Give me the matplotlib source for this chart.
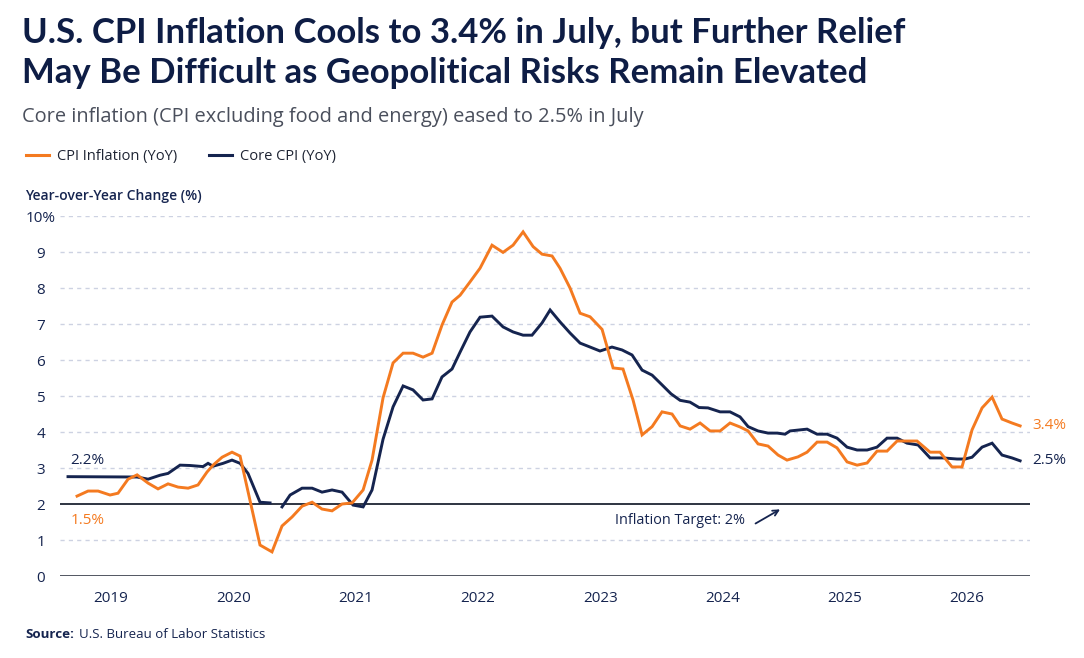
import numpy as np
import matplotlib
matplotlib.use("Agg")
import matplotlib.pyplot as plt

plt.rcParams['font.family'] = ['Open Sans', 'DejaVu Sans']

############
# data (decimal years, % yoy)
############
cpi_dates = [2018.722, 2018.812, 2018.894, 2018.992, 2019.057, 2019.139, 2019.213, 2019.303,
             2019.384, 2019.466, 2019.548, 2019.630, 2019.711, 2019.785, 2019.834, 2019.908,
             2019.989, 2020.055, 2020.218, 2020.316, 2020.398, 2020.480, 2020.562, 2020.644,
             2020.725, 2020.807, 2020.889, 2020.971, 2021.061, 2021.134, 2021.224, 2021.306,
             2021.388, 2021.469, 2021.551, 2021.625, 2021.706, 2021.788, 2021.854, 2021.935,
             2022.017, 2022.115, 2022.205, 2022.287, 2022.369, 2022.451, 2022.524, 2022.606,
             2022.671, 2022.753, 2022.835, 2022.917, 2023.015, 2023.105, 2023.186, 2023.268,
             2023.342, 2023.424, 2023.505, 2023.587, 2023.653, 2023.734, 2023.816, 2023.898,
             2023.980, 2024.061, 2024.143, 2024.209, 2024.290, 2024.372, 2024.454, 2024.527,
             2024.617, 2024.691, 2024.773, 2024.855, 2024.936, 2025.018, 2025.100, 2025.182,
             2025.263, 2025.345, 2025.427, 2025.509, 2025.590, 2025.697, 2025.778, 2025.876,
             2025.958, 2026.040, 2026.122, 2026.204, 2026.285, 2026.367, 2026.433]
cpi_values = [2.22, 2.36, 2.36, 2.25, 2.30, 2.69, 2.81, 2.58,
              2.42, 2.56, 2.47, 2.44, 2.53, 2.89, 3.08, 3.30,
              3.44, 3.33, 0.86, 0.67, 1.39, 1.64, 1.94, 2.05,
              1.86, 1.81, 2.00, 2.03, 2.39, 3.22, 4.95, 5.92,
              6.19, 6.19, 6.08, 6.19, 6.97, 7.61, 7.80, 8.17,
              8.55, 9.19, 8.99, 9.19, 9.56, 9.15, 8.94, 8.89,
              8.55, 8.00, 7.30, 7.20, 6.85, 5.78, 5.75, 4.89,
              3.92, 4.15, 4.56, 4.50, 4.17, 4.08, 4.25, 4.03,
              4.03, 4.25, 4.14, 4.03, 3.67, 3.61, 3.36, 3.22,
              3.31, 3.44, 3.72, 3.72, 3.56, 3.17, 3.08, 3.14,
              3.47, 3.47, 3.75, 3.75, 3.75, 3.44, 3.44, 3.03,
              3.03, 4.06, 4.67, 4.97, 4.36, 4.25, 4.17]

core_dates = [2018.648, 2019.213, 2019.303, 2019.401, 2019.466, 2019.564, 2019.646, 2019.752,
              2019.793, 2019.834, 2019.916, 2019.989, 2020.055, 2020.120, 2020.218, 2020.300,
              2020.350,
              2020.398, 2020.464, 2020.562, 2020.644, 2020.725, 2020.807, 2020.889, 2020.979,
              2021.061, 2021.134, 2021.224, 2021.306, 2021.388, 2021.469, 2021.551, 2021.625,
              2021.706, 2021.788, 2021.854, 2021.935, 2022.017, 2022.115, 2022.205, 2022.287,
              2022.369, 2022.442, 2022.524, 2022.590, 2022.671, 2022.753, 2022.835, 2022.917,
              2022.998, 2023.096, 2023.178, 2023.260, 2023.342, 2023.424, 2023.505, 2023.579,
              2023.653, 2023.734, 2023.808, 2023.881, 2023.980, 2024.061, 2024.143, 2024.209,
              2024.290, 2024.372, 2024.446, 2024.511, 2024.552, 2024.691, 2024.773, 2024.855,
              2024.936, 2025.018, 2025.100, 2025.182, 2025.263, 2025.345, 2025.427, 2025.509,
              2025.599, 2025.697, 2025.803, 2025.917, 2025.983, 2026.040, 2026.122, 2026.204,
              2026.285, 2026.367, 2026.433]
core_values = [2.76, 2.75, 2.69, 2.80, 2.85, 3.08, 3.07, 3.04,
               3.13, 3.05, 3.13, 3.22, 3.13, 2.85, 2.05, 2.03,
               np.nan,
               1.92, 2.25, 2.44, 2.44, 2.33, 2.39, 2.33, 1.97,
               1.92, 2.39, 3.80, 4.70, 5.28, 5.17, 4.89, 4.92,
               5.53, 5.75, 6.22, 6.78, 7.19, 7.22, 6.92, 6.78,
               6.69, 6.69, 7.03, 7.39, 7.06, 6.75, 6.47, 6.36,
               6.25, 6.36, 6.28, 6.14, 5.72, 5.58, 5.31, 5.06,
               4.88, 4.83, 4.68, 4.67, 4.56, 4.56, 4.42, 4.15,
               4.03, 3.97, 3.97, 3.94, 4.03, 4.08, 3.94, 3.94,
               3.83, 3.58, 3.50, 3.50, 3.58, 3.83, 3.83, 3.69,
               3.64, 3.28, 3.28, 3.25, 3.25, 3.30, 3.58, 3.69,
               3.36, 3.28, 3.20]

years = [2019, 2020, 2021, 2022, 2023, 2024, 2025, 2026]
y_ticks = list(range(0, 11))
y_labels = [str(v) for v in y_ticks[:-1]] + ['10%']
target = 2

orange = '#F47A20'
navy = '#15244F'
title_color = '#0E1D45'
grid_color = '#CDD2E2'

############
# figure
############
fig = plt.figure(figsize=(10.84, 6.58), dpi=100)
ax = fig.add_axes([0.0554, 0.1246, 0.8948, 0.5471])

for v in y_ticks[1:]:
    if v == target:
        continue
    ax.axhline(v, color=grid_color, lw=1.0, ls=(0, (3, 3)), zorder=1)
ax.axhline(target, color='#1E2433', lw=1.3, zorder=2)
ax.axhline(0, color='#1E2433', lw=1.8, zorder=2)

ax.plot(core_dates, core_values, color=navy, lw=2.1, zorder=3, solid_joinstyle='miter')
ax.plot(cpi_dates, cpi_values, color=orange, lw=2.1, zorder=4, solid_joinstyle='miter')

ax.set_xlim(2018.583, 2026.514)
ax.set_ylim(0, 10)
for s in ax.spines.values():
    s.set_visible(False)
ax.set_xticks(years)
ax.set_xticklabels([str(y) for y in years])
ax.set_yticks(y_ticks)
ax.set_yticklabels(y_labels)
for lab in ax.get_yticklabels():
    lab.set_horizontalalignment('center')
ax.tick_params(axis='y', length=0, pad=14, labelsize=11, labelcolor=navy)
ax.tick_params(axis='x', length=0, pad=11, labelsize=11, labelcolor=navy)

# annotations
ax.text(2018.67, 3.22, '2.2%', color=navy, fontsize=11, ha='left', va='center')
ax.text(2018.67, 1.55, '1.5%', color=orange, fontsize=11, ha='left', va='center')
ax.text(2026.53, 4.19, '3.4%', color=orange, fontsize=11, ha='left', va='center', clip_on=False)
ax.text(2026.53, 3.22, '2.5%', color=navy, fontsize=11, ha='left', va='center', clip_on=False)
ax.text(2023.12, 1.53, 'Inflation Target: 2%', color=navy, fontsize=10.4, ha='left', va='center')
ax.annotate('', xy=(2024.49, 1.89), xytext=(2024.25, 1.42),
            arrowprops=dict(arrowstyle='->', color=navy, lw=1.3))

# header
fig.text(0.0203, 0.9347, 'U.S. CPI Inflation Cools to 3.4% in July, but Further Relief',
         fontsize=25, fontweight='bold', color=title_color, family=['Lato', 'DejaVu Sans'])
fig.text(0.0203, 0.8739, 'May Be Difficult as Geopolitical Risks Remain Elevated',
         fontsize=25, fontweight='bold', color=title_color, family=['Lato', 'DejaVu Sans'])
fig.text(0.0203, 0.8146, 'Core inflation (CPI excluding food and energy) eased to 2.5% in July',
         fontsize=14.4, color='#4A4F5C')

handles = [plt.Line2D([], [], color=orange, lw=2.2), plt.Line2D([], [], color=navy, lw=2.2)]
fig.legend(handles, ['CPI Inflation (YoY)', 'Core CPI (YoY)'], loc='center left',
           bbox_to_anchor=(0.012, 0.7614), ncol=2, frameon=False, fontsize=10.5,
           handlelength=1.6, handletextpad=0.5, columnspacing=2.2, labelcolor='#1E2433')

fig.text(0.023, 0.696, 'Year-over-Year Change (%)', fontsize=10, fontweight='semibold', color=navy)

fig.text(0.023, 0.0304, 'Source:', fontsize=9.6, fontweight='bold', color=navy)
fig.text(0.0725, 0.0304, 'U.S. Bureau of Labor Statistics', fontsize=9.5, color=navy)

fig.savefig('out.png', dpi=100)
